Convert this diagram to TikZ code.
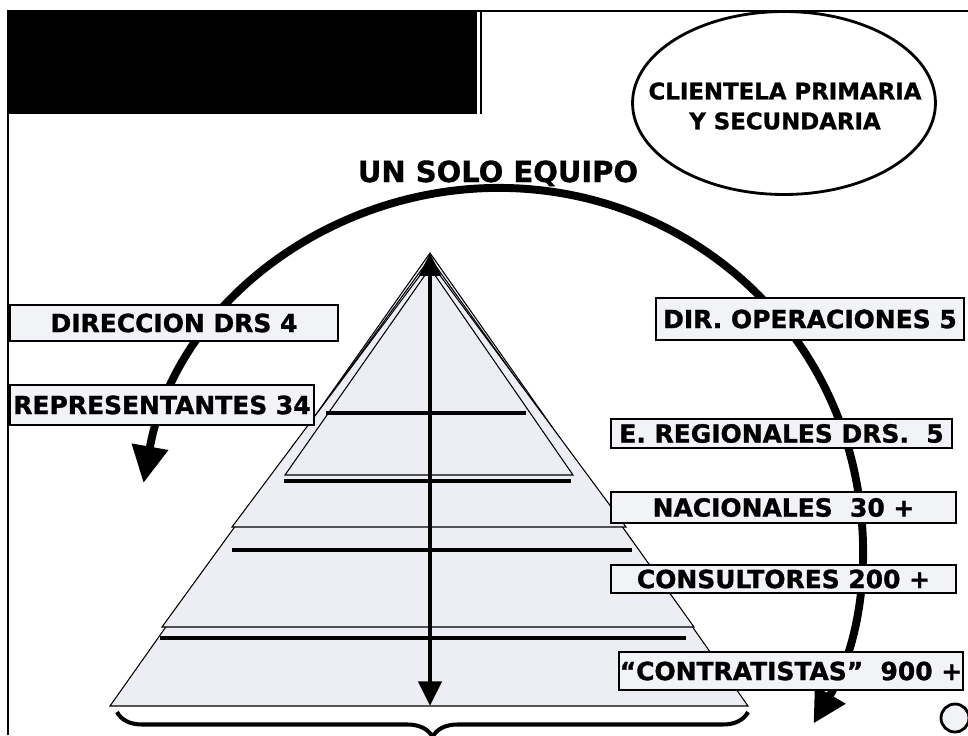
\documentclass[tikz,border=0pt]{standalone}
\usepackage{fontspec}
\setmainfont{DejaVu Sans}[BoldFeatures={FakeBold=1.2}]
\usepackage{xcolor}
\usepackage{tikz}
\usetikzlibrary{shapes.geometric, arrows.meta, decorations.pathreplacing}
\definecolor{pyrbg}{RGB}{236,238,244}
\definecolor{boxbg}{RGB}{242,243,247}

\begin{document}
\begin{tikzpicture}[x=0.02cm, y=-0.02cm, every node/.style={font=\bfseries},
        lbl/.style={draw, rectangle, line width=1pt, fill=boxbg, inner sep=0pt, font=\fontsize{14.2}{16}\selectfont\bfseries},
        layer/.style={draw, line width=0.6pt, fill=pyrbg},
        ledge/.style={line width=2.3pt}]
        \useasboundingbox (0,0) rectangle (968,735);

        % Frame and header
        \draw[line width=1.6pt] (8,735) -- (8,11) -- (968,11);
        \fill[black] (8,11) rectangle (477,114);
        \draw[line width=0.8pt] (481,11) -- (481,114);

        % Pyramid layers
        \draw[layer] (430,253) -- (110,706) -- (748,706) -- cycle;
        \draw[layer] (430,258) -- (162,627) -- (694,627) -- cycle;
        \draw[layer] (430,262) -- (232,527) -- (626,527) -- cycle;
        \draw[layer] (430,268) -- (285,475) -- (573,475) -- cycle;

        % Ledges
        \draw[ledge] (326,413) -- (526,413);
        \draw[ledge] (284,481) -- (571,481);
        \draw[ledge] (232,550) -- (632,550);
        \draw[ledge] (160,638) -- (686,638);

        % Vertical arrow
        \coordinate (apex) at (430,253);
        \coordinate (base) at (430,706);
        \draw[{Triangle[length=13pt,width=12pt]}-{Triangle[length=14pt,width=13pt]}, line width=2.8pt] (apex) -- (base);

        % Team arc
        \draw[{Triangle[length=21pt,width=20pt]}-{Triangle[length=19pt,width=19pt]}, line width=4.5pt]
            ([shift={(190:362 and 357)}]500,545) arc[start angle=190, end angle=390, x radius=362, y radius=357];

        % Left labels
        \node[lbl, minimum width=6.56cm, minimum height=0.72cm] (dirdrs) at (174,323) {DIRECCION DRS 4};
        \node[lbl, minimum width=6.08cm, minimum height=0.8cm] (repres) at (162,405) {REPRESENTANTES 34};

        % Right labels
        \node[lbl, minimum width=6.16cm, minimum height=0.84cm] (dirop) at (810,319) {DIR. OPERACIONES 5};
        \node[lbl, minimum width=6.82cm, minimum height=0.58cm] (eregion) at (781.5,433.5) {E. REGIONALES DRS.~ 5};
        \node[lbl, minimum width=6.9cm, minimum height=0.62cm] (nacion) at (783.5,507.5) {NACIONALES~ 30 +};
        \node[lbl, minimum width=6.9cm, minimum height=0.56cm] (consult) at (783.5,579) {CONSULTORES 200 +};
        \node[lbl, minimum width=6.88cm, minimum height=0.76cm] (contrat) at (791,671) {“CONTRATISTAS”~ 900 +};

        % Client ellipse and title
        \node[draw, ellipse, line width=1.6pt, minimum width=6.06cm, minimum height=3.66cm, inner sep=0pt] (client) at (784,103) {};
        \node[align=center, font=\fontsize{13}{17}\selectfont\bfseries] (clienttext) at (785,106) {CLIENTELA PRIMARIA\\Y SECUNDARIA};
        \node[anchor=base, font=\fontsize{16.5}{20}\selectfont\bfseries] (team) at (498,182) {UN SOLO EQUIPO};

        % Brace and corner mark
        \draw[decorate, decoration={brace, amplitude=0.5cm}, line width=2.3pt] (748,712) -- (117,712);
        \node[draw, circle, line width=1.6pt, fill=boxbg, minimum size=0.56cm, inner sep=0pt] (mark) at (955,718) {};
\end{tikzpicture}
\end{document}
